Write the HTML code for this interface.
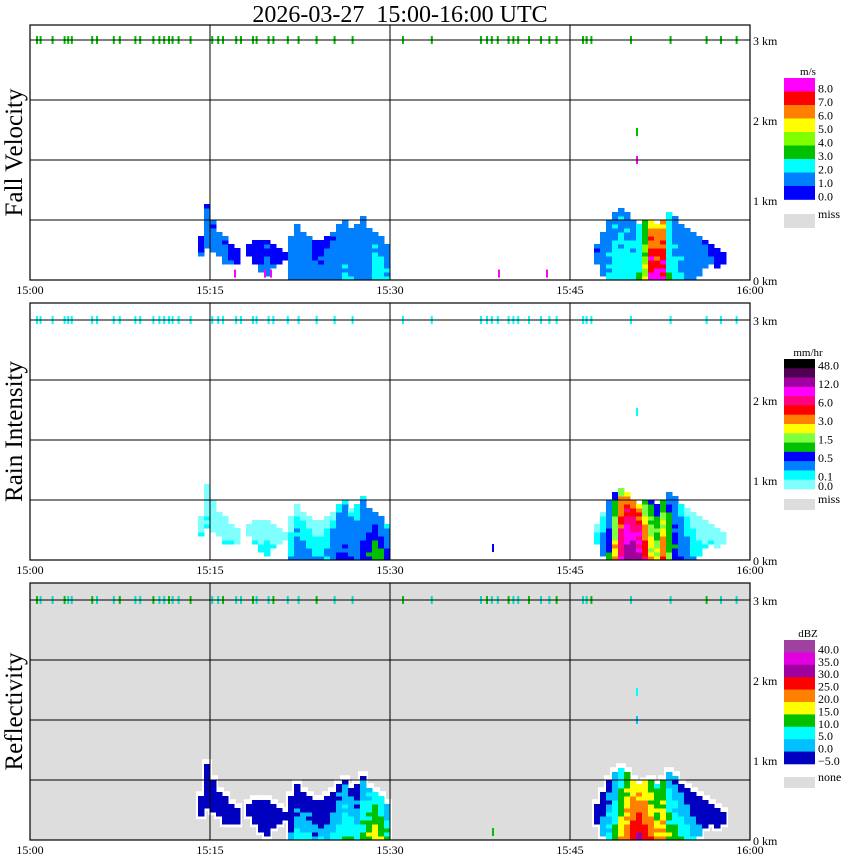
<!DOCTYPE html>
<html><head><meta charset="utf-8"><style>
html,body{margin:0;padding:0;background:#fff;}
svg{display:block;font-family:"Liberation Serif",serif;}
</style></head><body>
<svg id="chart" width="850" height="868" viewBox="0 0 850 868" xmlns="http://www.w3.org/2000/svg">
<text x="400" y="22" text-anchor="middle" font-size="24" style="white-space:pre">2026-03-27  15:00-16:00 UTC</text>
</svg>
<script>
// ---- data ----
const timeTicks = ["15:00","15:15","15:30","15:45","16:00"];
const kmTicks = [0,1,2,3];
const timesA = [14,14.5,15,15.5,16,16.5,17,17.5,18,18.5,19,19.5,20,20.5,21,21.5,22,22.5,23,23.5,24,24.5,25,25.5,26,26.5,27,27.5,28,28.5,29,29.5,30];
const topsA = [0.55,0.95,0.75,0.6,0.55,0.45,0.4,0,0.45,0.5,0.5,0.5,0.45,0.4,0.35,0.55,0.7,0.6,0.55,0.5,0.5,0.55,0.6,0.7,0.75,0.65,0.7,0.8,0.65,0.6,0.55,0.45,0];
const bottomsA = [0.3,0.4,0.35,0.3,0.2,0.2,0.2,0,0.3,0.2,0.1,0.05,0.15,0.2,0.25,0,0,0,0,0,0,0,0,0,0,0,0,0,0,0,0,0,0];
const timesB = [46.5,47,47.5,48,48.5,49,49.5,50,50.5,51,51.5,52,52.5,53,53.5,54,54.5,55,55.5,56,56.5,57,57.5,58];
const topsB = [0,0.45,0.6,0.75,0.85,0.9,0.85,0.75,0.7,0.72,0.75,0.7,0.75,0.85,0.8,0.7,0.65,0.6,0.55,0.5,0.45,0.4,0.35,0];
const bottomsB = [0,0.2,0.05,0,0,0,0,0,0,0,0,0,0,0,0,0,0,0,0.05,0.15,0.2,0.15,0.2,0];
const fallA = [1.2,1.5,1.5,1.5,1.5,1.3,1.2,0,1,1,1.2,1.3,1.2,1,1,1.5,1.8,1.8,1.5,1.2,1.2,1.3,1.5,1.8,2.2,2.0,1.6,1.5,1.8,2.5,2.5,2,0];
const fallB = [0,1.5,1.8,2.2,2.5,2.6,2.5,2.5,3,5,8.5,8.5,8.5,3,2.3,2.1,1.9,1.8,1.6,1.4,1.3,1.1,1.1,0];
const rainA = [0.08,0.08,0.08,0.08,0.08,0.08,0.05,0,0.08,0.08,0.08,0.08,0.08,0.08,0.08,0.1,0.15,0.15,0.12,0.1,0.1,0.12,0.2,0.3,0.35,0.25,0.25,0.4,0.5,0.7,0.6,0.4,0];
const rainB = [0,0.1,0.2,0.5,2,6,10,10,8,4,2,1.5,3,1,0.5,0.3,0.15,0.1,0.08,0.08,0.08,0.08,0.08,0];
const dbzA = [-2,-1,-1,-1,-2,-3,-3,0,-3,-3,-2,-2,-3,-3,-3,2,6,6,5,3,3,4,6,8,10,9,8,11,14,17,16,11,0];
const dbzB = [0,2,5,8,12,18,24,28,30,28,24,20,22,14,12,10,8,5,4,2,2,1,1,0];
const fallSpecks = [[17,0.03,8.5],[19.5,0.03,8.5],[20,0.03,8.5],[39,0.03,8.5],[43,0.03,8.5],[50.5,1.45,8.5],[50.5,1.8,3.5]];
const rainSpecks = [[38.5,0.1,0.3],[50.5,1.8,0.08]];
const dbzSpecks = [[38.5,0.05,12],[50.5,1.8,6],[50.5,1.45,2]];
const cloudTops = [0.5,0.8,1.8,2.8,3.1,3.4,5.1,5.5,6.9,7.4,8.7,9.1,10.2,10.7,11.1,11.5,11.8,12.3,13.3,15.1,15.6,16,17.1,17.5,18.5,18.8,19.8,20.2,21.4,22.3,23.8,25.3,26.8,31,33.4,37.5,38,38.4,38.9,39.8,40.2,40.6,41.5,42.5,43.2,43.8,46,46.3,46.7,50,53.3,56.3,57.5,58.8];
const fallThr = [0,1,2,3,4,5,6,7,8];
const fallCol = ["#0000ff","#0080ff","#00ffff","#00c000","#80ff00","#ffff00","#ff8000","#ff0000","#ff00ff"];
const rainThr = [0,0.05,0.1,0.3,0.5,1,1.5,2,3,4,6,8,12,24];
const rainCol = ["#80ffff","#00ffff","#0080ff","#0000ff","#00c000","#80ff40","#ffff00","#ff8000","#ff0000","#ff0080","#ff00ff","#a000a0","#500050","#000000"];
const dbzThr = [-5,0,5,10,15,20,25,30,35,40];
const dbzCol = ["#0000c0","#00c0ff","#00ffff","#00c000","#ffff00","#ff8000","#ff0000","#a000a0","#e000e0","#a040a0"];
const fallLabels = ["8.0","7.0","6.0","5.0","4.0","3.0","2.0","1.0","0.0"];
const rainLabels = [["48.0",1],["12.0",3],["6.0",5],["3.0",7],["1.5",9],["0.5",11],["0.1",13],["0.0",14]];
const dbzLabels = ["40.0","35.0","30.0","25.0","20.0","15.0","10.0","5.0","0.0","\u22125.0"];

// ---- rendering ----
const NS="http://www.w3.org/2000/svg";
const svg=document.getElementById('chart');
const X0=30,X1=750;
const xs=m=>X0+(X1-X0)*m/60;
function mk(tag,attrs,parent){const e=document.createElementNS(NS,tag);for(const k in attrs)e.setAttribute(k,attrs[k]);(parent||svg).appendChild(e);return e;}
function colorFor(v,thr,col){let c=null;for(let i=0;i<thr.length;i++){if(v>=thr[i])c=col[i];}return c;}

const panels=[
 {name:"fall-velocity",title:"Fall Velocity",top:25,base:280,bg:"#fff",A:fallA,B:fallB,thr:fallThr,col:fallCol,specks:fallSpecks,tick:"#00c000",kind:"fall",unit:"m/s"},
 {name:"rain-intensity",title:"Rain Intensity",top:303,base:560,bg:"#fff",A:rainA,B:rainB,thr:rainThr,col:rainCol,specks:rainSpecks,tick:"#00ffff",kind:"rain",unit:"mm/hr"},
 {name:"reflectivity",title:"Reflectivity",top:583,base:840,bg:"#dddddd",A:dbzA,B:dbzB,thr:dbzThr,col:dbzCol,specks:dbzSpecks,tick:"#00e0c0",kind:"dbz",unit:"dBZ"}
];
function valAt(kind,peak,h,top,i,j){
  const d=((i*3+j)%5===0)?1:(((i+j*2)%7===0)?-1:0);
  if(kind==="fall") return peak*(1-0.35*h/top)*(1+0.1*d);
  if(kind==="rain") return peak*(1-0.85*h/top)*(1+0.2*d);
  return peak-12*h/top+2*d;
}
panels.forEach(p=>{
  const g=mk('g',{});
  
  
  const ys=km=>p.base-80*km;
  const bg=mk('rect',{x:X0,y:p.top,width:X1-X0,height:p.base-p.top,fill:p.bg},g);
  
  
  const dw=(X1-X0)/60*0.5, dh=4;
  const regions=[[timesA,topsA,bottomsA,p.A],[timesB,topsB,bottomsB,p.B]];
  if(p.kind==="dbz"){
    regions.forEach(([ts,tops,bots])=>{
      ts.forEach((t,i)=>{
        const top=tops[i],bot=bots[i];
        if(top<=0) return;
        const w=mk('rect',{x:xs(t)-2,y:ys(top+0.06),width:dw+4,height:ys(Math.max(0,bot-0.04))-ys(top+0.06),fill:"#fff"},g);
        
        
      });
    });
  }
  regions.forEach(([ts,tops,bots,peaks])=>{
    ts.forEach((t,i)=>{
      const top=tops[i],bot=bots[i],pk=peaks[i];
      if(top<=0) return;
      for(let h=bot,j=0;h<top-0.001;h+=0.05,j++){
        const v=valAt(p.kind,pk,h,top,i,j);
        const c=colorFor(v,p.thr,p.col)||p.col[0];
        const r=mk('rect',{x:xs(t),y:ys(h+0.05),width:dw+0.5,height:dh+0.5,fill:c},g);
        
        
      }
    });
  });
  p.specks.forEach(s=>{
    const c=colorFor(s[2],p.thr,p.col)||p.col[0];
    const r=mk('rect',{x:xs(s[0]),y:ys(s[1]+0.1),width:2,height:8,fill:c},g);
    
    
  });
  cloudTops.forEach((t,i)=>{
    const r=mk('rect',{x:xs(t),y:ys(3)-4,width:2,height:8,fill:(p.kind==="dbz"&&i%3===0)?"#00c000":p.tick},g);
    
    
  });
  [3,2.25,1.5,0.75].forEach(k=>{
    const l=mk('line',{x1:X0,x2:X1,y1:ys(k),y2:ys(k),stroke:"#000","stroke-width":1},g);
    
    
  });
  [15,30,45].forEach(m=>{
    const l=mk('line',{x1:xs(m),x2:xs(m),y1:p.top,y2:p.base,stroke:"#000","stroke-width":1},g);
    
    
  });
  const fr=mk('rect',{x:X0,y:p.top,width:X1-X0,height:p.base-p.top,fill:"none",stroke:"#000","stroke-width":1.2},g);
  
  
  timeTicks.forEach((lab,i)=>{
    const tx=mk('text',{x:xs(i*15),y:p.base+14,"text-anchor":"middle","font-size":12},g);
    tx.textContent=lab;
    
    
  });
  kmTicks.forEach(k=>{
    const tx=mk('text',{x:753,y:ys(k)+5,"font-size":12},g);
    tx.textContent=k+" km";
    
    
  });
  const cy=(p.top+p.base)/2;
  const yt=mk('text',{x:22,y:cy,transform:`rotate(-90 22 ${cy})`,"text-anchor":"middle","font-size":25},g);
  yt.textContent=p.title;
  
  
  const lg=mk('g',{},g);
  
  
  let ly0,bh,missY,missLab,titleY,labs=[];
  if(p.kind==="fall"){ly0=78;bh=13.5;titleY=75;missY=214;missLab="miss";}
  else if(p.kind==="rain"){ly0=359;bh=130/14;titleY=356;missY=499;missLab="miss";}
  else {ly0=640;bh=12.4;titleY=637;missY=777;missLab="none";}
  const n=p.col.length;
  for(let i=0;i<n;i++){
    const r=mk('rect',{x:784,y:ly0+i*bh,width:31,height:bh+0.3,fill:p.col[n-1-i]},lg);
    
    
  }
  const mr=mk('rect',{x:784,y:missY,width:31,height:p.kind==="fall"?14:11,fill:"#dddddd"},lg);
  
  
  const ut=mk('text',{x:808,y:titleY,"text-anchor":"middle","font-size":11},lg);
  ut.textContent=p.unit;
  
  
  if(p.kind==="fall") labs=fallLabels.map((s,i)=>[s,ly0+(i+1)*bh]);
  else if(p.kind==="rain") labs=rainLabels.map(([s,b])=>[s,ly0+b*bh]);
  else labs=dbzLabels.map((s,i)=>[s,ly0+(i+1)*bh]);
  labs.forEach(([s,y])=>{
    const t=mk('text',{x:818,y:y+1,"font-size":12},lg);
    t.textContent=s;
    
    
  });
  const mt=mk('text',{x:818,y:missY+4,"font-size":12},lg);
  mt.textContent=missLab;
  
  
});
</script>
</body></html>
